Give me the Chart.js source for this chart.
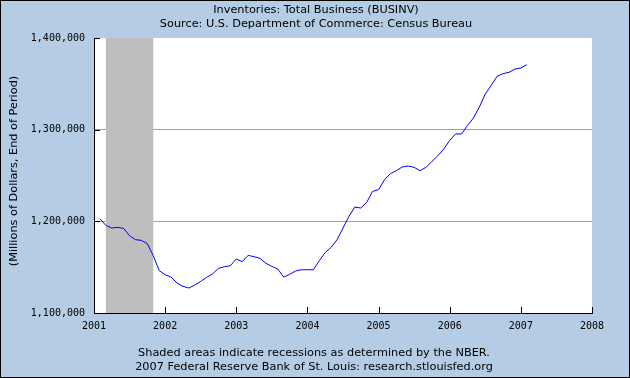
<!DOCTYPE html>
<html><head><meta charset="utf-8">
<script src="https://cdn.jsdelivr.net/npm/chart.js@4"></script>
<style>html,body{margin:0;padding:0;background:#b4cce4}canvas{display:block}</style>
</head><body>
<div style="width:630px;height:378px"><canvas id="c" width="630" height="378"></canvas></div>
<script>
const titleText = "Inventories: Total Business (BUSINV)";
const subtitleText = "Source: U.S. Department of Commerce: Census Bureau";
const yAxisTitle = "(Millions of Dollars, End of Period)";
const footerLines = [
  "Shaded areas indicate recessions as determined by the NBER.",
  "2007 Federal Reserve Bank of St. Louis: research.stlouisfed.org"
];
const months = [
  "2001-02","2001-03","2001-04","2001-05","2001-06","2001-07","2001-08","2001-09","2001-10","2001-11","2001-12",
  "2002-01","2002-02","2002-03","2002-04","2002-05","2002-06","2002-07","2002-08","2002-09","2002-10","2002-11","2002-12",
  "2003-01","2003-02","2003-03","2003-04","2003-05","2003-06","2003-07","2003-08","2003-09","2003-10","2003-11","2003-12",
  "2004-01","2004-02","2004-03","2004-04","2004-05","2004-06","2004-07","2004-08","2004-09","2004-10","2004-11","2004-12",
  "2005-01","2005-02","2005-03","2005-04","2005-05","2005-06","2005-07","2005-08","2005-09","2005-10","2005-11","2005-12",
  "2006-01","2006-02","2006-03","2006-04","2006-05","2006-06","2006-07","2006-08","2006-09","2006-10","2006-11","2006-12",
  "2007-01","2007-02"
];
const values = [
  1202900,1195600,1192700,1193400,1192300,1184300,1180000,1179200,1175600,1162500,1146200,
  1141800,1139200,1132700,1129100,1127300,1130500,1134500,1138900,1142500,1148700,1150500,1151600,
  1158900,1156000,1162900,1161400,1159600,1154200,1150900,1148000,1139200,1142200,1145800,1147200,
  1147200,1147200,1157000,1166000,1171600,1180000,1192700,1205400,1215600,1214500,1220700,1232700,
  1234500,1245400,1252000,1255300,1259300,1260300,1258900,1255300,1258900,1265400,1271600,1278900,
  1288300,1295300,1295300,1304700,1312700,1324700,1338900,1348300,1358200,1361100,1362500,1366200,
  1367200,1370900
];
const yTicks = [1100000, 1200000, 1300000, 1400000];
const yGridValues = [1200000, 1300000];
const xTicks = [2001, 2002, 2003, 2004, 2005, 2006, 2007, 2008];
const recessions = [["2001-03", "2001-11"]];

function toYear(s) { const p = s.split("-"); return +p[0] + (+p[1] - 1) / 12; }

const FONT = "DejaVu Sans";
const MONO = "DejaVu Sans Mono";

const decor = {
  id: "decor",
  beforeDraw(chart) {
    const c = chart.ctx, a = chart.chartArea;
    c.save();
    c.fillStyle = "#b4cce4";
    c.fillRect(0, 0, chart.width, chart.height);
    c.fillStyle = "#ffffff";
    c.fillRect(a.left, a.top, a.right - a.left, a.bottom - a.top);
    c.fillStyle = "#000";
    c.textAlign = "center";
    c.textBaseline = "middle";
    c.font = "11.3px '" + FONT + "'";
    c.fillText(titleText, 316, 10);
    c.fillText(subtitleText, 316, 24);
    c.fillText(footerLines[0], 314, 353);
    c.fillText(footerLines[1], 314, 367);
    c.translate(14, 171);
    c.rotate(-Math.PI / 2);
    c.fillText(yAxisTitle, 0, 0);
    c.restore();
  },
  beforeDatasetsDraw(chart) {
    const c = chart.ctx, a = chart.chartArea, x = chart.scales.x;
    c.save();
    c.fillStyle = "#bebebe";
    recessions.forEach(r => {
      const x0 = x.getPixelForValue(toYear(r[0]));
      const x1 = x.getPixelForValue(toYear(r[1]));
      c.fillRect(x0, a.top, x1 - x0, a.bottom - a.top);
    });
    c.restore();
  },
  afterDraw(chart) {
    const c = chart.ctx, a = chart.chartArea, x = chart.scales.x, y = chart.scales.y;
    c.save();
    c.strokeStyle = "#000";
    c.lineWidth = 1;
    c.beginPath();
    yTicks.forEach(v => {
      const py = Math.round(y.getPixelForValue(v)) + 0.5;
      c.moveTo(a.left, py); c.lineTo(a.left + 6, py);
    });
    xTicks.forEach(v => {
      const px = Math.round(x.getPixelForValue(v)) + 0.5;
      c.moveTo(px, a.bottom); c.lineTo(px, a.bottom - 6);
    });
    c.stroke();
    c.strokeRect(0.5, 0.5, chart.width - 1, chart.height - 1);
    c.restore();
  }
};

new Chart(document.getElementById("c"), {
  type: "line",
  data: {
    datasets: [{
      data: months.map((m, i) => ({ x: toYear(m), y: values[i] })),
      borderColor: "#0000ff",
      borderWidth: 1,
      pointRadius: 0,
      tension: 0,
      fill: false
    }]
  },
  options: {
    responsive: false,
    animation: false,
    devicePixelRatio: 1,
    layout: { padding: { left: 0, right: 38, top: 38, bottom: 0 } },
    plugins: { legend: { display: false }, tooltip: { enabled: false }, title: { display: false } },
    scales: {
      x: {
        type: "linear", min: 2001, max: 2008,
        afterFit(s) { s.height = 65; },
        afterBuildTicks(s) { s.ticks = xTicks.map(v => ({ value: v })); },
        ticks: { padding: 7, color: "#000", font: { family: MONO, size: 10 }, callback: v => String(v), maxRotation: 0, autoSkip: false },
        grid: { display: false, drawTicks: false },
        border: { display: true, color: "#000", width: 1 }
      },
      y: {
        min: 1100000, max: 1400000,
        afterFit(s) { s.width = 94; },
        afterBuildTicks(s) { s.ticks = yTicks.map(v => ({ value: v })); },
        ticks: { padding: 9, color: "#000", font: { family: MONO, size: 10 }, callback: v => Number(v).toLocaleString("en-US") },
        grid: {
          drawTicks: false,
          color: c => (c.tick && yGridValues.includes(c.tick.value)) ? "#a0a0a0" : "rgba(0,0,0,0)",
          lineWidth: 1
        },
        border: { display: true, color: "#000", width: 1 }
      }
    }
  },
  plugins: [decor]
});
</script>
</body></html>
